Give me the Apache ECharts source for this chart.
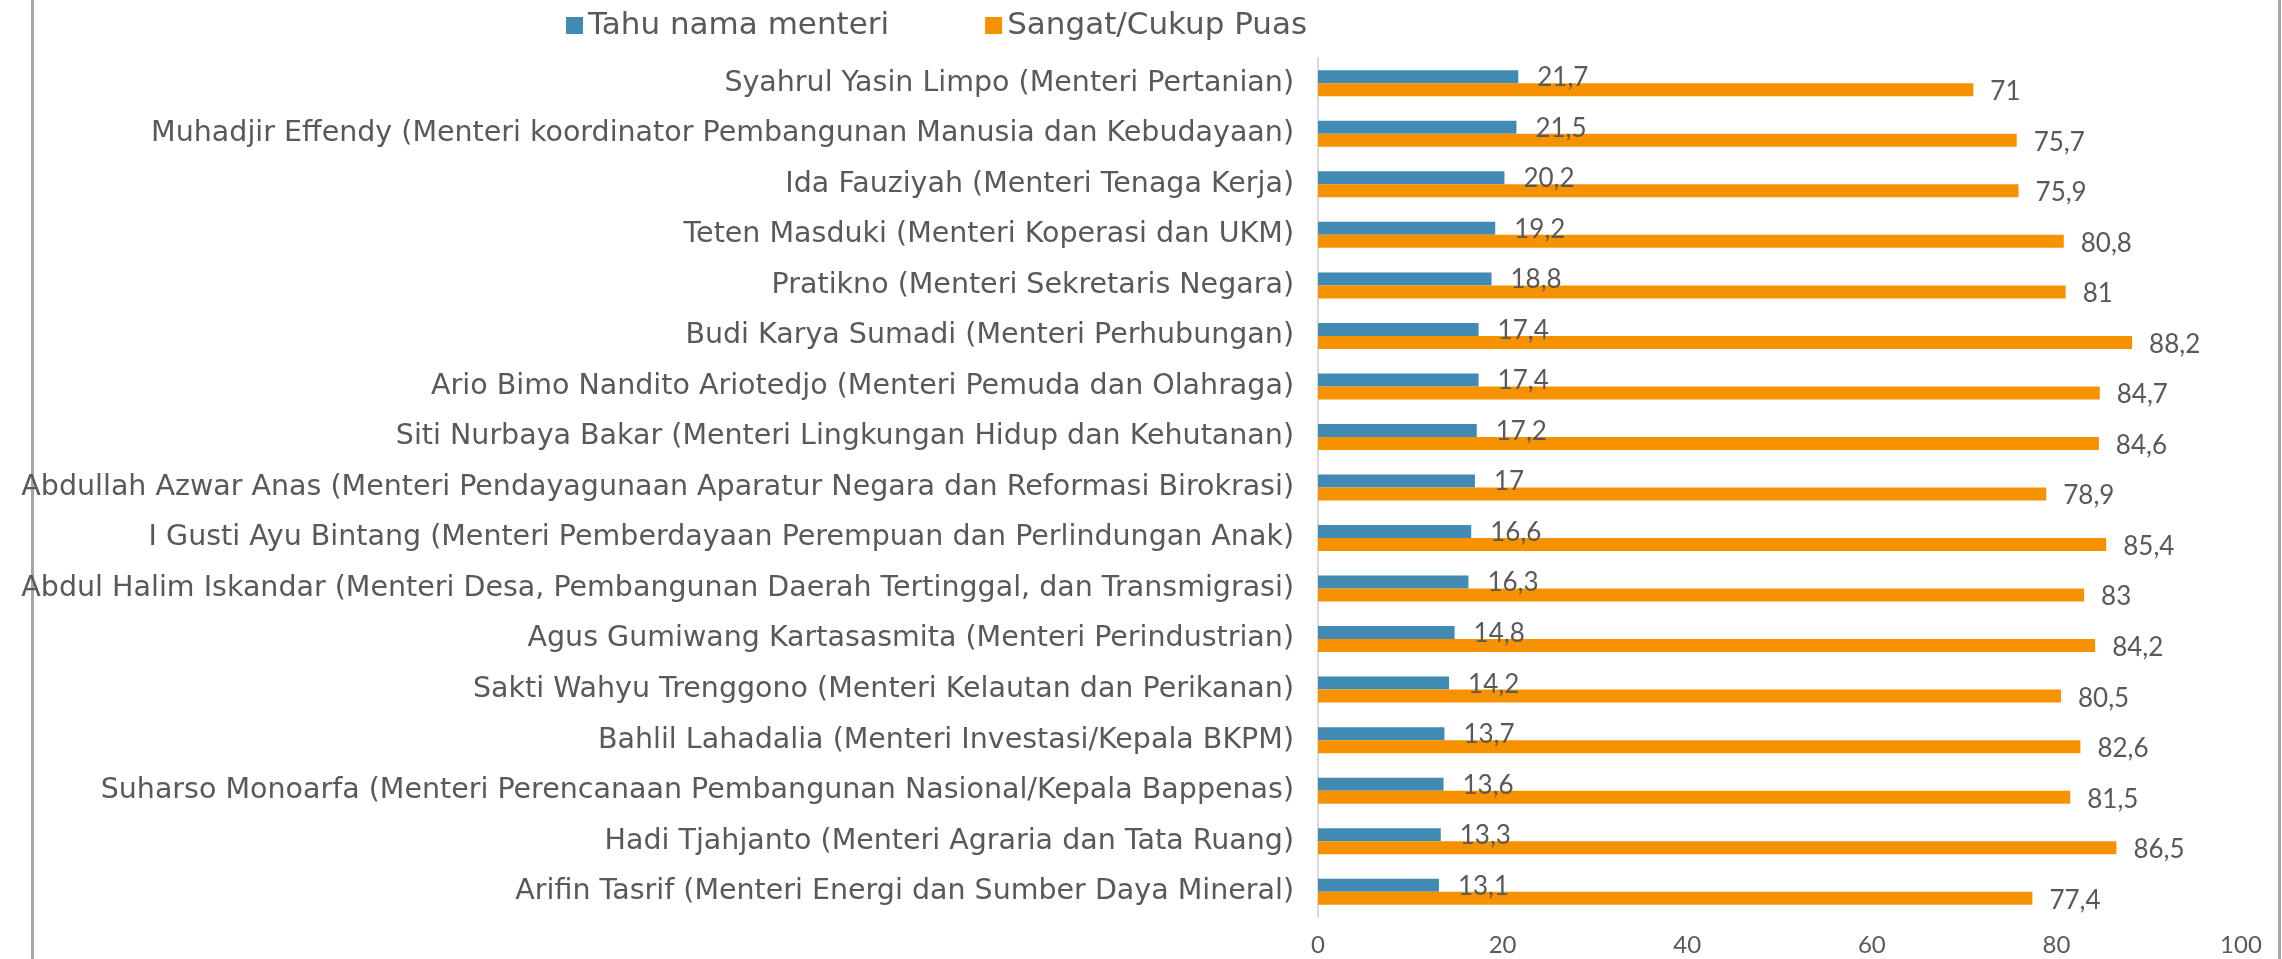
<!DOCTYPE html>
<html>
<head>
<meta charset="utf-8">
<title>Menteri</title>
<script src="https://cdn.jsdelivr.net/npm/echarts@6/dist/echarts.min.js"></script>
<style>
    html, body { margin: 0; padding: 0; background: #fff; }
    #chart { width: 2282px; height: 959px; }
</style>
</head>
<body>
<div id="chart"></div>
<script>
// kategori (urut dari atas ke bawah)
const menteri = [
    'Syahrul Yasin Limpo (Menteri Pertanian)',
    'Muhadjir Effendy (Menteri koordinator Pembangunan Manusia dan Kebudayaan)',
    'Ida Fauziyah (Menteri Tenaga Kerja)',
    'Teten Masduki (Menteri Koperasi dan UKM)',
    'Pratikno (Menteri Sekretaris Negara)',
    'Budi Karya Sumadi (Menteri Perhubungan)',
    'Ario Bimo Nandito Ariotedjo (Menteri Pemuda dan Olahraga)',
    'Siti Nurbaya Bakar (Menteri Lingkungan Hidup dan Kehutanan)',
    'Abdullah Azwar Anas (Menteri Pendayagunaan Aparatur Negara dan Reformasi Birokrasi)',
    'I Gusti Ayu Bintang (Menteri Pemberdayaan Perempuan dan Perlindungan Anak)',
    'Abdul Halim Iskandar (Menteri Desa, Pembangunan Daerah Tertinggal, dan Transmigrasi)',
    'Agus Gumiwang Kartasasmita (Menteri Perindustrian)',
    'Sakti Wahyu Trenggono (Menteri Kelautan dan Perikanan)',
    'Bahlil Lahadalia (Menteri Investasi/Kepala BKPM)',
    'Suharso Monoarfa (Menteri Perencanaan Pembangunan Nasional/Kepala Bappenas)',
    'Hadi Tjahjanto (Menteri Agraria dan Tata Ruang)',
    'Arifin Tasrif (Menteri Energi dan Sumber Daya Mineral)'
];

const tahuNama = [21.7, 21.5, 20.2, 19.2, 18.8, 17.4, 17.4, 17.2, 17, 16.6, 16.3, 14.8, 14.2, 13.7, 13.6, 13.3, 13.1];
const puas = [71, 75.7, 75.9, 80.8, 81, 88.2, 84.7, 84.6, 78.9, 85.4, 83, 84.2, 80.5, 82.6, 81.5, 86.5, 77.4];

const seriesNames = ['Tahu nama menteri', 'Sangat/Cukup Puas'];
const xTicks = [0, 20, 40, 60, 80, 100];

// font teks (lebar) dan font angka
const fontText = '"DejaVu Sans", sans-serif';
const fontNum = 'Lato, "Noto Sans", sans-serif';
const textColor = '#595959';

function koma(v) {
    return String(v).replace('.', ',');
}

const chart = echarts.init(document.getElementById('chart'));

const option = {
    animation: false,
    legend: {
        data: seriesNames,
        left: 561,
        top: 5,
        icon: 'rect',
        itemWidth: 17,
        itemHeight: 17,
        itemGap: 96,
        textStyle: { color: textColor, fontSize: 31, fontFamily: fontText }
    },
    grid: {
        left: 1318,
        right: 41,
        top: 58,
        bottom: 42
    },
    xAxis: {
        type: 'value',
        min: xTicks[0],
        max: xTicks[xTicks.length - 1],
        interval: 20,
        axisLine: { show: false },
        axisTick: { show: false },
        splitLine: { show: false },
        axisLabel: { color: textColor, fontSize: 24, fontFamily: fontNum, margin: 16 }
    },
    yAxis: {
        type: 'category',
        inverse: true,
        data: menteri,
        axisLine: { show: true, lineStyle: { color: '#d9d9d9', width: 2 } },
        axisTick: { show: false },
        axisLabel: { color: textColor, fontSize: 28.5, fontFamily: fontText, margin: 24 }
    },
    series: [
        {
            name: seriesNames[0],
            type: 'bar',
            data: tahuNama,
            barWidth: 13,
            barGap: '0%',
            itemStyle: { color: '#418AB3' },
            label: {
                show: true,
                position: 'right',
                distance: 19,
                offset: [0, 1],
                color: textColor,
                fontSize: 26,
                fontFamily: fontNum,
                formatter: p => koma(p.value)
            }
        },
        {
            name: seriesNames[1],
            type: 'bar',
            data: puas,
            barWidth: 13,
            barGap: '0%',
            itemStyle: { color: '#F69200' },
            label: {
                show: true,
                position: 'right',
                distance: 17,
                offset: [0, 2],
                color: textColor,
                fontSize: 26,
                fontFamily: fontNum,
                formatter: p => koma(p.value)
            }
        }
    ],
    graphic: [
        { type: 'rect', left: 31, top: 0, shape: { width: 3, height: 959 }, style: { fill: '#a6a6a6' } },
        { type: 'rect', left: 2278, top: 0, shape: { width: 3, height: 959 }, style: { fill: '#a6a6a6' } }
    ]
};

chart.setOption(option);
</script>
</body>
</html>
